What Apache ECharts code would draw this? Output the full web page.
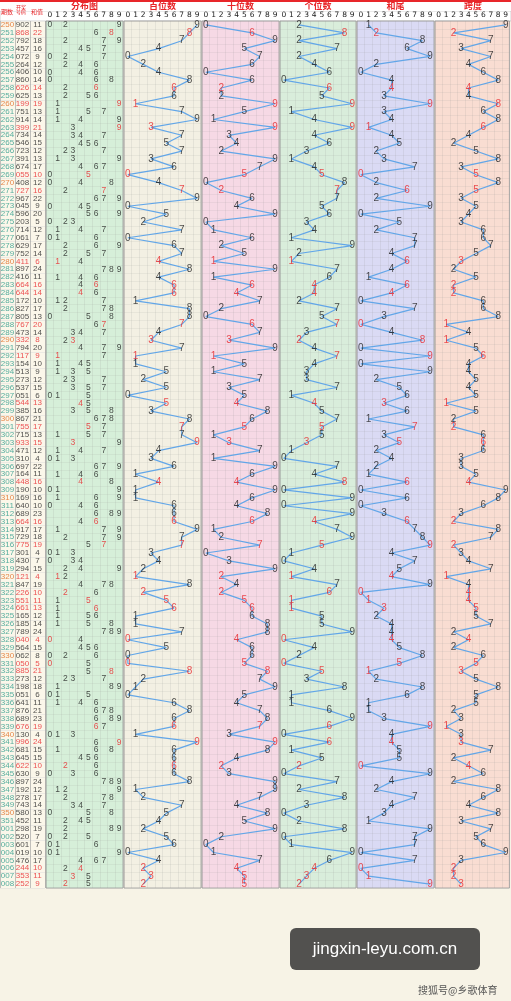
<!DOCTYPE html><html><head><meta charset="utf-8">
<script src="https://cdn.jsdelivr.net/npm/echarts@6/dist/echarts.min.js"></script>
<style>html,body{margin:0;padding:0;background:#f7f3e6}#c{width:511px;height:1001px}</style></head><body><div id="c"></div>
<script>
const periods=['250','251','252','253','254','255','256','257','258','259','260','261','262','263','264','265','266','267','268','269','270','271','272','273','274','275','276','277','278','279','280','281','282','283','284','285','286','287','288','289','290','291','292','293','294','295','296','297','298','299','300','301','302','303','304','305','306','307','308','309','310','311','312','313','314','315','316','317','318','319','320','321','322','323','324','325','326','327','328','329','330','331','332','333','334','335','336','337','338','339','340','341','342','343','344','345','346','347','348','349','350','351','001','002','003','004','005','006','007','008'];
const draws=['902','868','792','457','072','264','406','860','626','625','199','751','914','399','734','546','723','391','674','055','408','727','967','045','596','203','714','061','629','752','411','897','416','664','644','172','827','805','767','473','332','794','117','154','513','273','537','051','544','385','867','755','715','933','471','310','697','164','448','190','169','640','689','664','917','729','775','301','430','294','121','847','226','551','661','165','185','789','040','564','062','050','885','273','198','051','641','876','689','676','130','996','681','645','622','630','897','192','278','743','580','452','298','520','601','019','476','244','353','252'];
const digitLabels=['0','1','2','3','4','5','6','7','8','9'];
const blockTitles=['分布图','百位数','十位数','个位数','和尾','跨度'];

const RED='#e8262a',DARK='#1e1e1e',BLUE='#62a6e8';
const N=draws.length;
const rowsIdx=[...Array(N).keys()];
const digs=draws.map(s=>s.split('').map(Number));
const isRep=digs.map(d=>new Set(d).size<3);
const sums=digs.map(d=>d[0]+d[1]+d[2]);
const hund=digs.map(d=>d[0]),tens=digs.map(d=>d[1]),units=digs.map(d=>d[2]);
const tail=sums.map(s=>s%10);
const span=digs.map(d=>Math.max(...d)-Math.min(...d));

const gTop=21,gBottom=1001-888;
const blocks=[[46,123,'#d6efd9'],[124,201,'#f3f0e3'],[202,279,'#f6d9e5'],[280,356,'#d9eddb'],[357,434,'#dadaf4'],[435,511,'#f9ddd2']];
const grids=[{left:0,width:45,top:gTop,bottom:gBottom,show:true,backgroundColor:'#fbf7ea',borderWidth:0}];
const xAxis=[{gridIndex:0,type:'category',data:['p','n','s'],position:'top',axisLabel:{show:false},axisTick:{show:false},axisLine:{show:false},splitLine:{show:true,lineStyle:{color:'#999',width:0.6}}}];
const yAxis=[{gridIndex:0,type:'category',data:periods,inverse:true,show:true,axisLabel:{show:false},axisTick:{show:false},axisLine:{show:false},splitLine:{show:true,lineStyle:{color:'#ddd',width:0.5}}}];
blocks.forEach((b,i)=>{
  grids.push({left:b[0],width:b[1]-b[0],top:gTop,bottom:gBottom,show:true,backgroundColor:b[2],borderColor:'#999',borderWidth:0.8});
  xAxis.push({gridIndex:i+1,type:'category',data:digitLabels,position:'top',axisLabel:{show:true,fontSize:7.5,margin:2,color:'#222',interval:0,fontFamily:'DejaVu Sans'},axisTick:{show:false},axisLine:{show:false},splitLine:{show:true,interval:0,lineStyle:{color:'rgba(150,150,150,0.3)',width:0.5}}});
  yAxis.push({gridIndex:i+1,type:'category',data:periods,inverse:true,axisLabel:{show:false},axisTick:{show:false},axisLine:{show:false},splitLine:{show:true,interval:0,lineStyle:{color:'rgba(150,150,150,0.25)',width:0.5}}});
});
const series=[];
const lab=(fs)=>({show:true,position:'inside',formatter:p=>p.data.t,color:DARK,fontSize:fs,fontFamily:'Liberation Sans'});
const base={type:'scatter',symbolSize:0,itemStyle:{color:'transparent'},silent:true,z:5,labelLayout:{hideOverlap:false}};
const leftData=[];
rowsIdx.forEach(r=>{
  const pc=periods[r].endsWith('0')?'#e06a20':'#2a9a8a';
  leftData.push({value:[0,r],t:periods[r],label:{color:pc}});
  leftData.push({value:[1,r],t:draws[r],label:{color:isRep[r]?RED:DARK}});
  leftData.push({value:[2,r],t:String(sums[r]),label:{color:isRep[r]?RED:DARK}});
});
series.push(Object.assign({},base,{xAxisIndex:0,yAxisIndex:0,data:leftData,label:lab(8)}));
const distData=[];
rowsIdx.forEach(r=>{
  const d=digs[r];
  [...new Set(d)].forEach(v=>{
    const cnt=d.filter(x=>x===v).length;
    distData.push({value:[v,r],t:String(v),label:{color:cnt>1?RED:DARK}});
  });
});
series.push(Object.assign({},base,{xAxisIndex:1,yAxisIndex:1,data:distData,label:lab(8.5)}));
[hund,tens,units,tail,span].forEach((arr,k)=>{
  const gi=k+2;
  series.push({type:'line',xAxisIndex:gi,yAxisIndex:gi,data:rowsIdx.map(r=>[arr[r],r]),showSymbol:false,lineStyle:{color:BLUE,width:1.2},silent:true,z:2});
  series.push(Object.assign({},base,{xAxisIndex:gi,yAxisIndex:gi,data:rowsIdx.map(r=>({value:[arr[r],r],t:String(arr[r]),label:{color:isRep[r]?RED:DARK}})),label:lab(10)}));
});
const graphic=[
  {type:'rect',shape:{x:0,y:0,width:511,height:2},style:{fill:RED}},
  {type:'rect',shape:{x:0,y:2,width:511,height:9},style:{fill:'#fff'}},
  {type:'rect',shape:{x:0,y:11,width:511,height:10},style:{fill:'#fff',stroke:'#aaa',lineWidth:0.5},z:-1},
  {type:'text',x:1,y:9,style:{text:'期数',fill:RED,font:'6px "Noto Sans CJK SC"'}},
  {type:'text',x:16,y:5,style:{text:'开奖\n号码',fill:RED,font:'5px "Noto Sans CJK SC"'}},
  {type:'text',x:31,y:9,style:{text:'和值',fill:RED,font:'6px "Noto Sans CJK SC"'}},
  {type:'rect',shape:{x:290,y:928,width:190,height:42,r:6},style:{fill:'rgba(45,45,45,0.82)'}},
  {type:'text',x:385,y:949,style:{text:'jingxin-leyu.com.cn',fill:'#fff',font:'17px "Liberation Sans"',align:'center',verticalAlign:'middle'}},
  {type:'text',x:418,y:985,style:{text:'搜狐号@乡歌体育',fill:'#555',font:'10px "Noto Sans CJK SC"'}}
];
blocks.forEach((b,i)=>graphic.push({type:'text',x:(b[0]+b[1])/2,y:6,style:{text:blockTitles[i],fill:RED,font:'bold 9px "Noto Sans CJK SC"',align:'center',verticalAlign:'middle'}}));
const chart=echarts.init(document.getElementById('c'),null,{renderer:'canvas'});
chart.setOption({animation:false,backgroundColor:'#f7f3e6',grid:grids,xAxis:xAxis,yAxis:yAxis,series:series,graphic:graphic});
</script></body></html>
